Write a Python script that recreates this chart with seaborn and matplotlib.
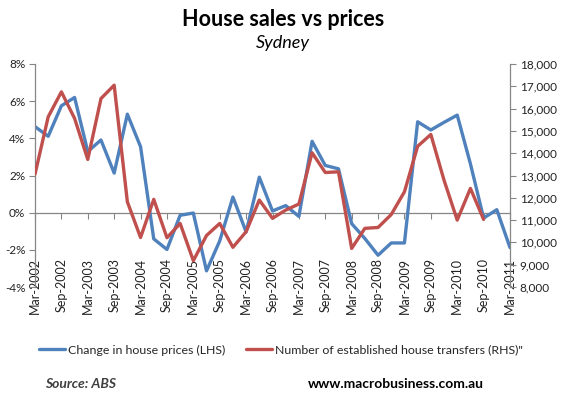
import numpy as np
import pandas as pd
import matplotlib
matplotlib.use("Agg")
import matplotlib.pyplot as plt
import seaborn as sns
from matplotlib.ticker import FuncFormatter

quarters = ["Mar-2002", "Jun-2002", "Sep-2002", "Dec-2002",
            "Mar-2003", "Jun-2003", "Sep-2003", "Dec-2003",
            "Mar-2004", "Jun-2004", "Sep-2004", "Dec-2004",
            "Mar-2005", "Jun-2005", "Sep-2005", "Dec-2005",
            "Mar-2006", "Jun-2006", "Sep-2006", "Dec-2006",
            "Mar-2007", "Jun-2007", "Sep-2007", "Dec-2007",
            "Mar-2008", "Jun-2008", "Sep-2008", "Dec-2008",
            "Mar-2009", "Jun-2009", "Sep-2009", "Dec-2009",
            "Mar-2010", "Jun-2010", "Sep-2010", "Dec-2010",
            "Mar-2011"]

price_change = [4.63, 4.11, 5.75, 6.20, 3.29, 3.91, 2.13, 5.30,
                3.55, -1.41, -1.98, -0.14, -0.02, -3.13, -1.52, 0.84,
                -1.04, 1.91, 0.09, 0.38, -0.20, 3.84, 2.54, 2.36,
                -0.59, -1.39, -2.29, -1.63, -1.63, 4.89, 4.45, 4.86,
                5.25, 2.63, -0.29, 0.16, -1.88]

transfers = [13060, 15630, 16750, 15560, 13720, 16450, 17050, 11820,
             10220, 11930, 10210, 10850, 9180, 10310, 10850, 9780,
             10480, 11900, 11080, 11450, 11720, 14020, 13135, 13165,
             9730, 10630, 10670, 11250, 12270, 14310, 14840, 12790,
             11000, 12420, 11030]

left_ticks = [-4, -2, 0, 2, 4, 6, 8]
right_ticks = [8000, 9000, 10000, 11000, 12000, 13000, 14000, 15000,
               16000, 17000, 18000]

BLUE = "#4F81BD"
RED = "#C0504D"

sns.set_style("white")
plt.rcParams["font.family"] = ["Lato", "DejaVu Sans"]

fig = plt.figure(figsize=(5.66, 3.97), dpi=100)
L, R, T, B = 35 / 566, 510 / 566, 64 / 397, 287 / 397
ax = fig.add_axes([L, 1 - B, R - L, B - T])
ax2 = ax.twinx()

df_p = pd.DataFrame({"x": np.arange(len(price_change)), "y": price_change})
df_t = pd.DataFrame({"x": np.arange(len(transfers)), "y": transfers})

sns.lineplot(data=df_p, x="x", y="y", ax=ax, color=BLUE, linewidth=2.4,
             label="Change in house prices (LHS)", legend=False)
sns.lineplot(data=df_t, x="x", y="y", ax=ax2, color=RED, linewidth=2.4,
             label='Number of established house transfers (RHS)"', legend=False)

ax.set_xlim(0, len(quarters) - 1)
ax.set_ylim(-4, 8)
ax2.set_ylim(8000, 18000)
ax.set_xlabel("")
ax.set_ylabel("")
ax2.set_ylabel("")

gray = "#868686"
tick_idx = list(range(0, len(quarters), 2))
ax.set_xticks(tick_idx)
ax.set_xticklabels([quarters[i] for i in tick_idx], rotation=90,
                   fontsize=9, color="#222222", ha="left", va="top")
ax.tick_params(axis="x", length=0, pad=-21)
for lbl in ax.get_xticklabels():
    lbl.set_horizontalalignment("center")

ax.set_yticks(left_ticks)
ax.yaxis.set_major_formatter(FuncFormatter(lambda v, p: f"{int(v)}%"))
ax.tick_params(axis="y", direction="out", length=4, color=gray,
               labelsize=8.5, labelcolor="#222222", left=True, pad=3)

ax2.set_yticks(right_ticks)
ax2.yaxis.set_major_formatter(FuncFormatter(lambda v, p: f"{int(v):,}"))
ax2.tick_params(axis="y", direction="out", length=4, color=gray,
                labelsize=8.5, labelcolor="#222222", right=True, pad=3)

for a in (ax, ax2):
    a.spines["top"].set_visible(False)
    a.spines["bottom"].set_visible(False)
ax.spines["left"].set_color(gray)
ax.spines["right"].set_visible(False)
ax2.spines["left"].set_visible(False)
ax2.spines["right"].set_color(gray)
ax2.spines["right"].set_linewidth(0.9)
ax.spines["left"].set_linewidth(0.9)

# zero line with tick marks
zero_frac = (0 - (-4)) / (8 - (-4))
sec = ax.secondary_xaxis(zero_frac)
sec.set_xticks(tick_idx)
sec.set_xticklabels([])
sec.tick_params(axis="x", direction="out", length=4, color=gray)
sec.spines["bottom"].set_color(gray)
sec.spines["bottom"].set_linewidth(0.9)

fig.text(0.5, 1 - 19 / 397, "House sales vs prices", ha="center", va="center",
         fontsize=15.5, fontweight="bold", color="black")
fig.text(0.5, 1 - 43 / 397, "Sydney", ha="center", va="center",
         fontsize=13, fontstyle="italic", color="black")

h1, l1 = ax.get_legend_handles_labels()
h2, l2 = ax2.get_legend_handles_labels()
fig.legend(h1 + h2, l1 + l2, loc="center", bbox_to_anchor=(281 / 566, 1 - 350 / 397),
           ncol=2, frameon=False, fontsize=8.9, handlelength=2.1, handletextpad=0.25,
           columnspacing=1.7)

fig.text(45 / 566, 1 - 384 / 397, "Source: ABS", ha="left", va="center",
         fontsize=10, fontweight="bold", fontstyle="italic", color="#404040")
fig.text(396 / 566, 1 - 384 / 397, "www.macrobusiness.com.au", ha="center", va="center",
         fontsize=10, fontweight="bold", color="black")

fig.savefig("out.png", dpi=100)
